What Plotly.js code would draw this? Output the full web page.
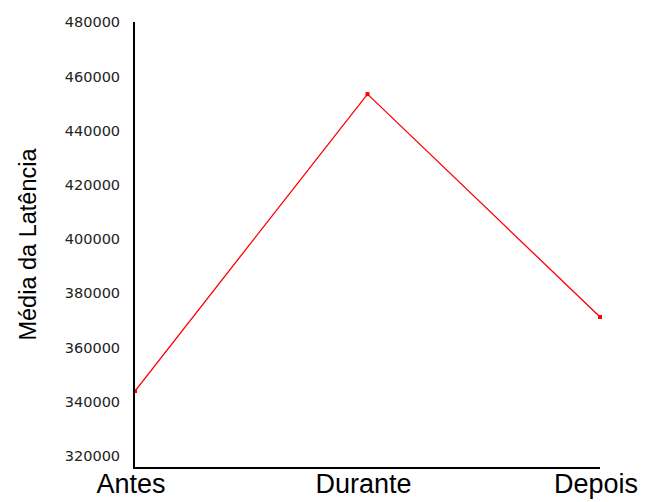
<!DOCTYPE html>
<html>
<head>
<meta charset="utf-8">
<script src="https://cdn.plot.ly/plotly-3.0.1.min.js"></script>
<style>html,body{margin:0;padding:0;background:#fff;}#chart{width:648px;height:502px;}</style>
</head>
<body>
<div id="chart"></div>
<script>
const categories = ["Antes", "Durante", "Depois"];
const mediaLatencia = [344000, 453500, 371300];
const yTickValues = [320000, 340000, 360000, 380000, 400000, 420000, 440000, 460000, 480000];

const trace = {
  x: categories,
  y: mediaLatencia,
  type: "scatter",
  mode: "lines+markers",
  line: {color: "#ff0000", width: 1.3},
  marker: {color: "#ff0000", symbol: "square", size: 4},
  cliponaxis: false,
  hoverinfo: "skip"
};

const layout = {
  width: 648, height: 502,
  margin: {l: 135, r: 48, t: 22, b: 35},
  paper_bgcolor: "#ffffff", plot_bgcolor: "#ffffff",
  showlegend: false,
  font: {family: "Liberation Sans, Arial, sans-serif", color: "#000"},
  xaxis: {
    type: "category",
    range: [0, 2],
    showgrid: false, zeroline: false,
    showline: true, linecolor: "#000", linewidth: 2,
    ticks: "", tickfont: {size: 27, color: "#000"},
    ticklabelstandoff: -8,
    ticklabelshift: -4
  },
  yaxis: {
    range: [315960, 480100],
    tickvals: yTickValues,
    ticktext: yTickValues.map(String),
    showgrid: false, zeroline: false,
    showline: true, linecolor: "#000", linewidth: 2,
    ticks: "", tickfont: {size: 14.5, color: "#222", family: "DejaVu Sans, sans-serif"},
    ticklabelstandoff: 10,
    title: {text: "Média da Latência", font: {size: 23.5, color: "#000"}, standoff: 22}
  }
};

Plotly.newPlot("chart", [trace], layout, {staticPlot: true, displayModeBar: false});
</script>
</body>
</html>
